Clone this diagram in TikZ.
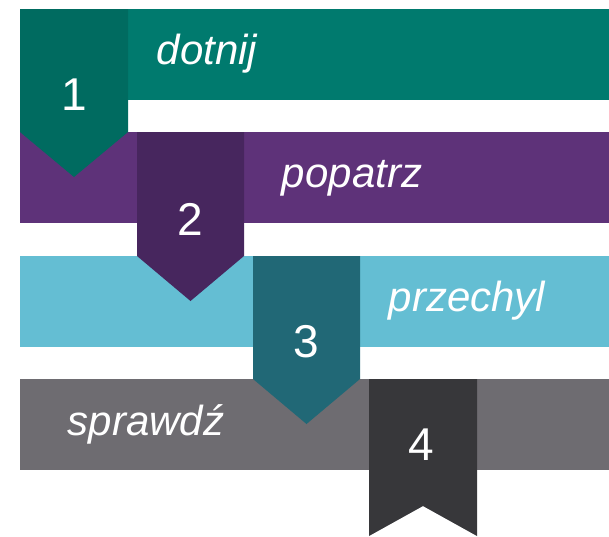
\documentclass[tikz,border=0pt]{standalone}
\usepackage{fontspec}
\setmainfont{Liberation Sans}
\usepackage{tikz}

\definecolor{bandA}{RGB}{0,122,110}
\definecolor{tabA}{RGB}{0,107,96}
\definecolor{bandB}{RGB}{94,50,121}
\definecolor{tabB}{RGB}{71,38,94}
\definecolor{bandC}{RGB}{100,190,211}
\definecolor{tabC}{RGB}{33,104,118}
\definecolor{bandD}{RGB}{110,108,113}
\definecolor{tabD}{RGB}{55,55,58}

\begin{document}
\begin{tikzpicture}[x=1pt, y=-1pt,
        every node/.append style={text=white, inner sep=0pt}]
      \tikzstyle{word} = [font=\fontsize{42}{48}\selectfont\itshape]
      \tikzstyle{num} = [font=\fontsize{46}{52}\selectfont]
      \useasboundingbox (0,0) rectangle (609,536);
      % bands
      \fill[bandA] (20,9) rectangle (609,100);
      \fill[bandB] (20,132) rectangle (609,223);
      \fill[bandC] (20,256) rectangle (609,347);
      \fill[bandD] (20,379) rectangle (609,470);
      % tabs
      \fill[tabA] (20,9) -- (128,9) -- (128,132) -- (74,177) -- (20,132) -- cycle;
      \fill[tabB] (137,132) -- (244,132) -- (244,256) -- (190.5,301) -- (137,256) -- cycle;
      \fill[tabC] (253,256) -- (360,256) -- (360,379) -- (306.5,424) -- (253,379) -- cycle;
      \fill[tabD] (369,379) -- (477,379) -- (477,536) -- (423,506) -- (369,536) -- cycle;
      % labels
      \node (one) [num] at (74,95) {1};
      \node (two) [num] at (190.5,219) {2};
      \node (three) [num] at (306.5,342) {3};
      \node (four) [num] at (421,445) {4};
      \node (dotnij) [word] at (207,54) {dotnij};
      \node (popatrz) [word] at (352,178) {popatrz};
      \node (przechyl) [word] at (467,301) {przechyl};
      \node (sprawdz) [word] at (146,424) {sprawdź};
    \end{tikzpicture}
\end{document}
